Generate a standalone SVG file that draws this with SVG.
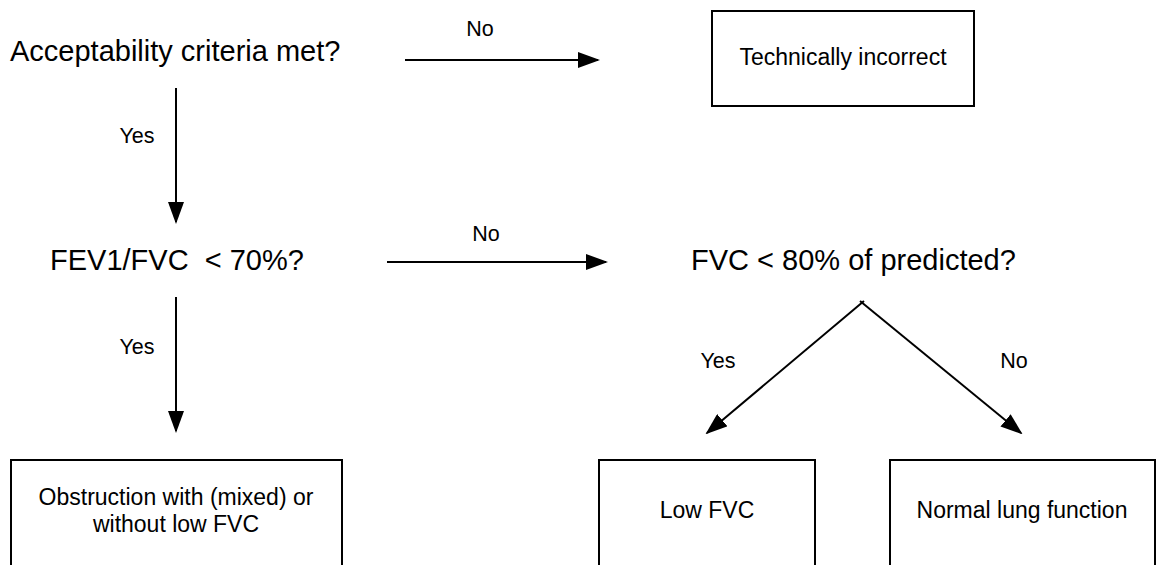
<svg xmlns="http://www.w3.org/2000/svg" width="1157" height="565" viewBox="0 0 1157 565">
<defs>
<marker id="ah" markerUnits="userSpaceOnUse" markerWidth="22" markerHeight="16" refX="20" refY="8" orient="auto">
<path d="M0,0 L22,8 L0,16 Z" fill="#000"/>
</marker>
<style>
text{font-family:"Liberation Sans",Arial,sans-serif;fill:#000}
.q{font-size:29px}
.l{font-size:21.5px;text-anchor:middle}
.b{font-size:23px;text-anchor:middle}
.box{fill:#fff;stroke:#000;stroke-width:2}
.c{stroke:#000;stroke-width:2;fill:none;marker-end:url(#ah)}
</style>
</defs>
<rect width="1157" height="565" fill="#fff"/>
<g id="q1"><text class="q" x="10" y="61">Acceptability criteria met?</text></g>
<g id="tech"><rect class="box" x="712" y="11" width="262" height="95"/><text class="b" x="843" y="65">Technically incorrect</text></g>
<g id="q2"><text class="q" x="50" y="270" xml:space="preserve">FEV1/FVC  &lt; 70%?</text></g>
<g id="q3"><text class="q" x="691" y="270">FVC &lt; 80% of predicted?</text></g>
<g id="obs"><rect class="box" x="11" y="460" width="331" height="120"/><text class="b" x="176" y="505">Obstruction with (mixed) or</text><text class="b" x="176" y="532">without low FVC</text></g>
<g id="low"><rect class="box" x="599" y="460" width="216" height="120"/><text class="b" x="707" y="518">Low FVC</text></g>
<g id="norm"><rect class="box" x="890" y="460" width="265" height="120"/><text class="b" x="1022" y="518">Normal lung function</text></g>
<g id="connectors">
<line class="c" x1="405" y1="60" x2="598" y2="60"/>
<text class="l" x="480" y="36">No</text>
<line class="c" x1="176" y1="88" x2="176" y2="222"/>
<text class="l" x="137" y="143">Yes</text>
<line class="c" x1="387" y1="262" x2="606" y2="262"/>
<text class="l" x="486" y="241">No</text>
<line class="c" x1="176" y1="297" x2="176" y2="431"/>
<text class="l" x="137" y="354">Yes</text>
<line class="c" x1="864" y1="301" x2="707" y2="433"/>
<line class="c" x1="860" y1="301" x2="1021" y2="433"/>
<text class="l" x="718" y="368">Yes</text>
<text class="l" x="1014" y="368">No</text>
</g>
</svg>
